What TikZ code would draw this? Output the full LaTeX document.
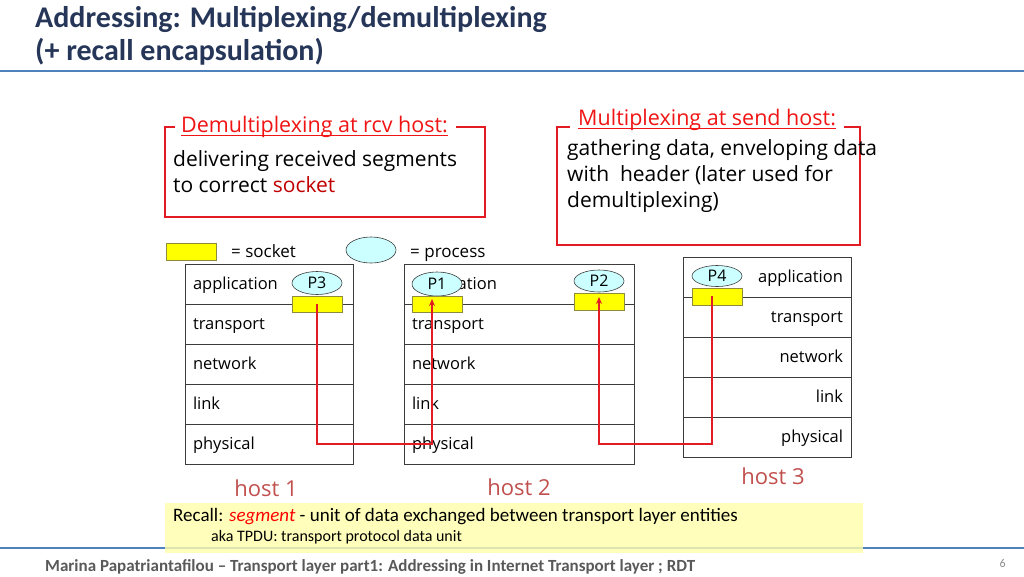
\documentclass[tikz,border=0pt]{standalone}
\usepackage{fontspec}
\setmainfont{Carlito}
\newfontfamily\comic{Open Sans}
\usetikzlibrary{arrows.meta,shapes.geometric}
\definecolor{navy}{RGB}{38,54,88}
\definecolor{lineblue}{RGB}{79,129,189}
\definecolor{boxred}{RGB}{226,28,34}
\definecolor{headred}{RGB}{240,20,20}
\definecolor{darkred}{RGB}{192,0,0}
\definecolor{hostred}{RGB}{192,80,77}
\definecolor{sockfill}{RGB}{255,255,0}
\definecolor{sockdraw}{RGB}{140,140,60}
\definecolor{procfill}{RGB}{204,255,255}
\definecolor{recallfill}{RGB}{255,255,170}
\definecolor{footgray}{RGB}{89,89,89}
\definecolor{layergray}{RGB}{60,60,60}
\tikzset{
  layerL/.style={draw=layergray,line width=0.8pt,minimum height=40,inner sep=0,
    font=\comic\fontsize{16.5}{18}\selectfont,align=left,text height=12,text depth=2},
  layerR/.style={draw=layergray,line width=0.8pt,minimum height=40,inner sep=0,
    font=\comic\fontsize{16.5}{18}\selectfont,align=right,text height=12,text depth=2},
  sock/.style={draw=sockdraw,fill=sockfill,line width=0.6pt,minimum width=50,minimum height=16,inner sep=0},
  proc/.style={ellipse,draw=layergray,fill=procfill,line width=0.6pt,minimum width=50,minimum height=22,inner sep=0,
    font=\comic\fontsize{16}{18}\selectfont},
  redline/.style={draw=boxred,line width=1.4pt},
  redarrow/.style={redline,-{Stealth[length=7pt,width=6pt]}},
  redbox/.style={draw=boxred,line width=1.5pt},
  head/.style={text=headred,font=\comic\fontsize{21.5}{24}\selectfont,inner sep=0,anchor=base west},
  body/.style={font=\comic\fontsize{21}{26}\selectfont,inner sep=0,anchor=base west},
  hostlbl/.style={text=hostred,font=\comic\fontsize{22}{24}\selectfont,inner sep=0},
  legend/.style={font=\comic\fontsize{17}{19}\selectfont,inner sep=0,anchor=base west},
  ttl/.style={anchor=base west,inner sep=0,text=navy,font=\fontsize{30}{33}\selectfont\bfseries}
}
\begin{document}
\begin{tikzpicture}[x=1pt,y=-1pt]
\useasboundingbox (0,0) rectangle (1024,576);
% title
\node[ttl] (title1) at (35,27) {Addressing: Multiplexing/demultiplexing};
\node[ttl] (title2) at (35,60) {(+ recall encapsulation)};
\draw[lineblue,line width=2.5pt] (0,71) -- (1024,71);

% demultiplexing box
\node[head] (dh) at (181,132) {Demultiplexing at rcv host:};
\draw[headred,line width=1pt] ([yshift=-3]dh.base west) -- ([yshift=-3]dh.base east);
\draw[redbox] ([xshift=-6]dh.base west |- 0,127) -- (165,127) -- (165,217) -- (485,217) -- (485,127) -- ([xshift=8]dh.base east |- 0,127);
\node[body] (db1) at (173,166) {delivering received segments};
\node[body] (db2) at (173,192) {to correct \textcolor{darkred}{socket}};

% multiplexing box
\node[head] (mh) at (578,125) {Multiplexing at send host:};
\draw[headred,line width=1pt] ([yshift=-3]mh.base west) -- ([yshift=-3]mh.base east);
\draw[redbox] ([xshift=-8]mh.base west |- 0,127) -- (557,127) -- (557,245) -- (860,245) -- (860,127) -- ([xshift=8]mh.base east |- 0,127);
\node[body] (mb1) at (567,155) {gathering data, enveloping data};
\node[body] (mb2) at (567,181) {with\ \ header (later used for};
\node[body] (mb3) at (567,207) {demultiplexing)};

% legend
\node[sock,minimum width=50,minimum height=17] (lsock) at (191,251.5) {};
\node[legend] (lsockt) at (231,257) {= socket};
\node[proc,minimum height=26] (lproc) at (371,250) {};
\node[legend] (lproct) at (410,257) {= process};

% host 1
\foreach \n/\t [count=\i from 0] in {app/application,tr/transport,net/network,lnk/link,phy/physical}{
  \node[layerL,minimum width=168,text width=152] (h1\n) at (269,284+40*\i) {\t};
}
% host 2
\foreach \n/\t [count=\i from 0] in {app/application,tr/transport,net/network,lnk/link,phy/physical}{
  \node[layerL,minimum width=230,text width=214] (h2\n) at (519,284+40*\i) {\t};
}
% host 3
\foreach \n/\t [count=\i from 0] in {app/application,tr/transport,net/network,lnk/link,phy/physical}{
  \node[layerR,minimum width=168,text width=152] (h3\n) at (767,277+40*\i) {\t};
}

% processes and sockets
\node[proc,minimum height=23] (p3) at (317,283) {P3};
\node[sock] (s3) at (317,304) {};
\node[proc,minimum height=24] (p1) at (437,284) {P1};
\node[sock] (s1) at (437,304.5) {};
\node[proc] (p2) at (599,281) {P2};
\node[sock,minimum height=17] (s2) at (599,301.5) {};
\node[proc,minimum height=21] (p4) at (717,276) {P4};
\node[sock,minimum height=17] (s4) at (717,296.5) {};

% red paths
\coordinate (k1) at (317,444);
\coordinate (k2) at (432,444);
\coordinate (t1) at (432,299);
\coordinate (k3) at (712,444);
\coordinate (k4) at (599,444);
\coordinate (t2) at (599,297);
\coordinate (u4) at (712,296);
\draw[redarrow] (s3.center) -- (k1) -- (k2) -- (t1);
\draw[redarrow] (u4) -- (k3) -- (k4) -- (t2);

% host labels
\node[hostlbl] (hl1) at (266,488) {host 1};
\node[hostlbl] (hl2) at (519,487) {host 2};
\node[hostlbl] (hl3) at (773,476) {host 3};

% bottom line and recall box
\draw[lineblue,line width=2pt] (0,548) -- (1024,548);
\node[fill=recallfill,fill opacity=0.8,text opacity=1,minimum width=698,minimum height=50,inner sep=0] (recall) at (514,528) {};
\node[anchor=base west,inner sep=0,font=\fontsize{19}{21}\selectfont] (rt1) at (173,521)
  {Recall: \textcolor{red}{\itshape segment} - unit of data exchanged between transport layer entities};
\node[anchor=base west,inner sep=0,font=\fontsize{16}{18}\selectfont] (rt2) at (211,541)
  {aka TPDU: transport protocol data unit};

% footer
\node[anchor=base west,inner sep=0,text=footgray,font=\fontsize{17}{19}\selectfont\bfseries] (foot) at (45,571)
  {Marina Papatriantafilou -- Transport layer part1: Addressing in Internet Transport layer ; RDT};
\node[anchor=base east,inner sep=0,text=footgray!70,font=\fontsize{12}{14}\selectfont] (pg) at (1006,567) {6};
\end{tikzpicture}
\end{document}
